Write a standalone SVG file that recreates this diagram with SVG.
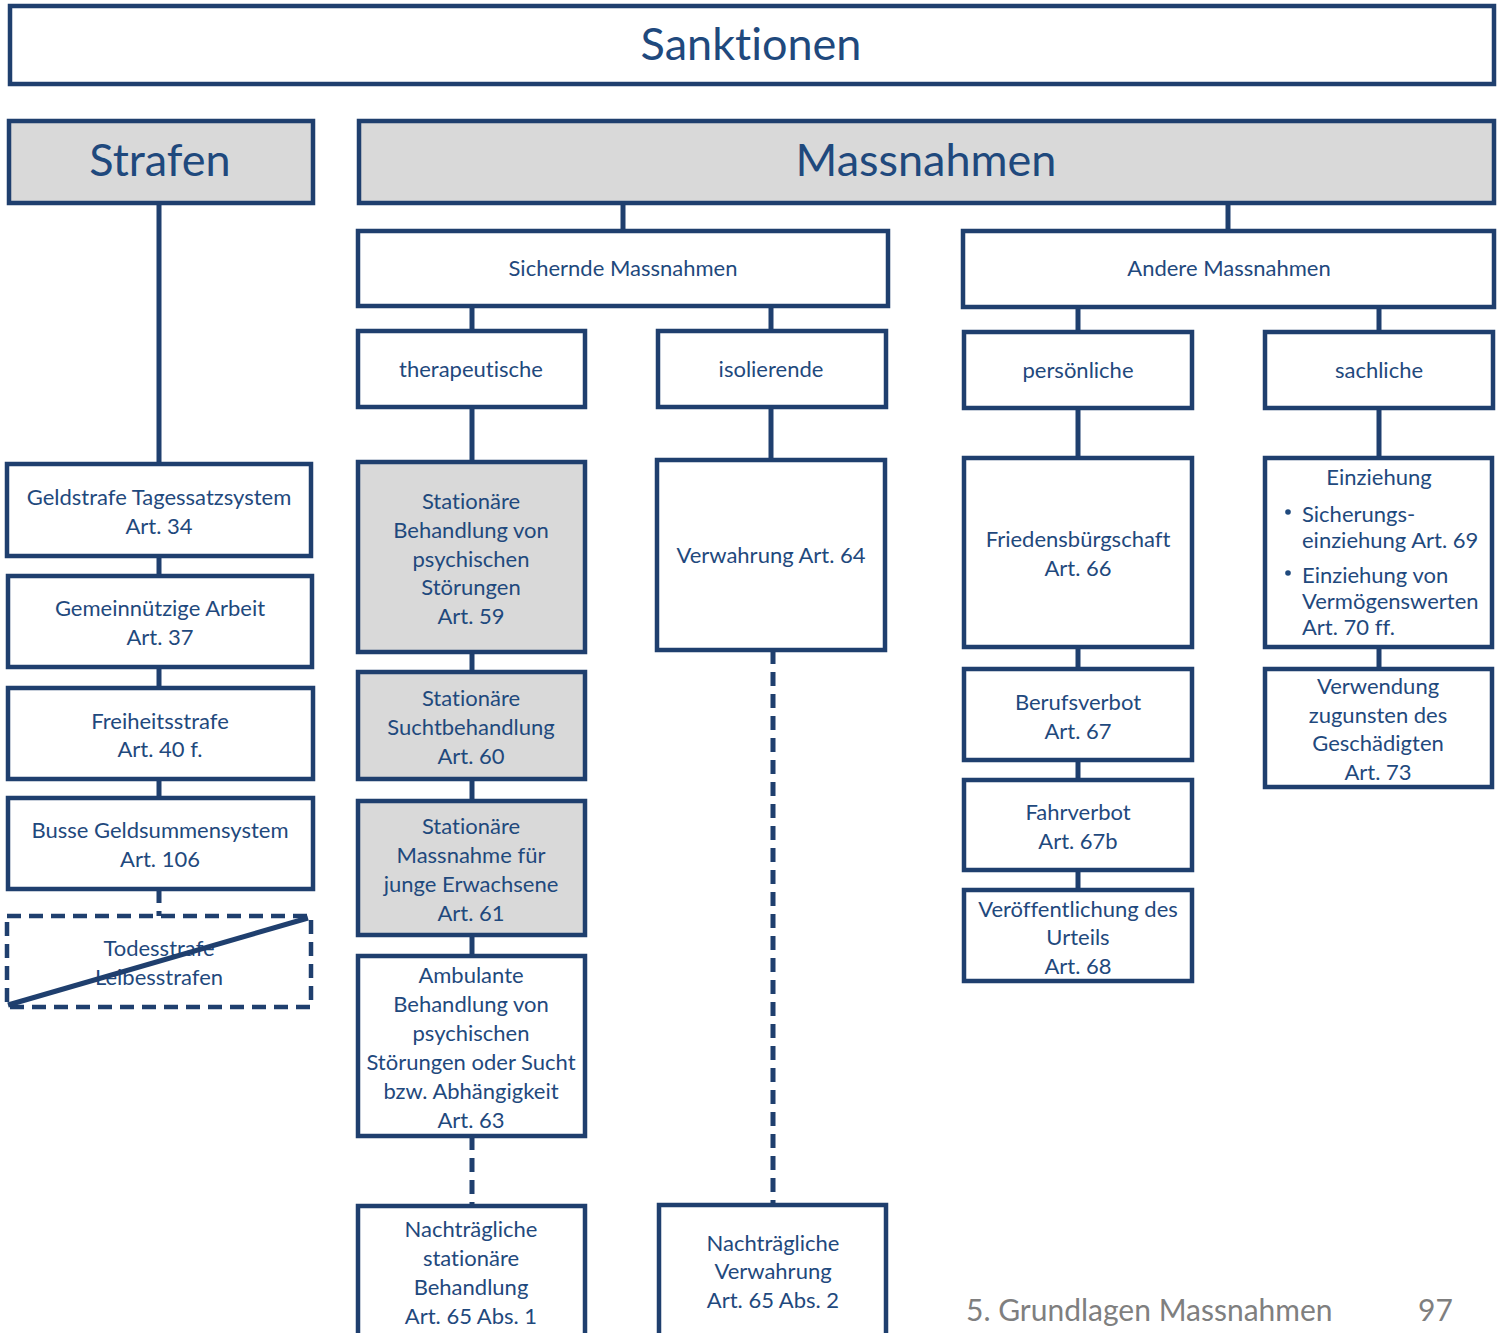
<svg xmlns="http://www.w3.org/2000/svg" width="1501" height="1333" viewBox="0 0 1501 1333">
<style>
.b{fill:#fff;stroke:#1F3F6E;stroke-width:4.5}
.g{fill:#D9D9D9;stroke:#1F3F6E;stroke-width:4.5}
.d{fill:#fff;stroke:#1F3F6E;stroke-width:4.5;stroke-dasharray:14 8}
.c{stroke:#1F3F6E;stroke-width:5;fill:none}
.cd{stroke:#1F3F6E;stroke-width:5;fill:none;stroke-dasharray:14 8}
text{font-family:Lato,"Open Sans",sans-serif;fill:#1F497D;font-size:22px;text-anchor:middle;dominant-baseline:central;font-variant-ligatures:none}
.big{font-size:45px}
.l{text-anchor:start}
.f{fill:#7F7F7F;font-size:30px;text-anchor:start}
</style>
<rect width="1501" height="1333" fill="#fff"/>
<g id="connectors">
<line class="c" x1="159" y1="203" x2="159" y2="464"/>
<line class="c" x1="159" y1="556" x2="159" y2="576"/>
<line class="c" x1="159" y1="667" x2="159" y2="688"/>
<line class="c" x1="159" y1="779" x2="159" y2="798"/>
<line class="cd" x1="159" y1="889" x2="159" y2="916" stroke-dasharray="7 6"/>
<line class="c" x1="623" y1="203" x2="623" y2="231"/>
<line class="c" x1="1228" y1="203" x2="1228" y2="231"/>
<line class="c" x1="472" y1="306" x2="472" y2="331"/>
<line class="c" x1="771" y1="306" x2="771" y2="331"/>
<line class="c" x1="1078" y1="307" x2="1078" y2="332"/>
<line class="c" x1="1379" y1="307" x2="1379" y2="332"/>
<line class="c" x1="472" y1="407" x2="472" y2="462"/>
<line class="c" x1="472" y1="652" x2="472" y2="672"/>
<line class="c" x1="472" y1="779" x2="472" y2="801"/>
<line class="c" x1="472" y1="935" x2="472" y2="956"/>
<line class="cd" x1="472" y1="1136" x2="472" y2="1206"/>
<line class="c" x1="771" y1="407" x2="771" y2="460"/>
<line class="cd" x1="773" y1="650" x2="773" y2="1205"/>
<line class="c" x1="1078" y1="408" x2="1078" y2="458"/>
<line class="c" x1="1078" y1="647" x2="1078" y2="669"/>
<line class="c" x1="1078" y1="760" x2="1078" y2="780"/>
<line class="c" x1="1078" y1="870" x2="1078" y2="890"/>
<line class="c" x1="1379" y1="408" x2="1379" y2="458"/>
<line class="c" x1="1379" y1="647" x2="1379" y2="669"/>
</g>
<g id="sanktionen"><rect class="b" x="10" y="6" width="1484" height="78"/><text class="big" x="751" y="43">Sanktionen</text></g>
<g id="strafen"><rect class="g" x="9" y="121" width="304" height="82"/><text class="big" x="160" y="159">Strafen</text></g>
<g id="massnahmen"><rect class="g" x="359" y="121" width="1135" height="82"/><text class="big" x="926" y="159">Massnahmen</text></g>
<g id="sichernde"><rect class="b" x="358" y="231" width="530" height="75"/><text x="623" y="267">Sichernde Massnahmen</text></g>
<g id="andere"><rect class="b" x="963" y="231" width="531" height="76"/><text x="1229" y="267">Andere Massnahmen</text></g>
<g id="therapeutische"><rect class="b" x="358" y="331" width="227" height="76"/><text x="471" y="368">therapeutische</text></g>
<g id="isolierende"><rect class="b" x="658" y="331" width="228" height="76"/><text x="771" y="368">isolierende</text></g>
<g id="persoenliche"><rect class="b" x="964" y="332" width="228" height="76"/><text x="1078" y="369">persönliche</text></g>
<g id="sachliche"><rect class="b" x="1265" y="332" width="228" height="76"/><text x="1379" y="369">sachliche</text></g>
<g id="geldstrafe"><rect class="b" x="7" y="464" width="304" height="92"/><text x="159" y="496">Geldstrafe Tagessatzsystem</text><text x="159" y="525">Art. 34</text></g>
<g id="gemeinnuetzige"><rect class="b" x="8" y="576" width="304" height="91"/><text x="160" y="607">Gemeinnützige Arbeit</text><text x="160" y="636">Art. 37</text></g>
<g id="freiheitsstrafe"><rect class="b" x="8" y="688" width="305" height="91"/><text x="160" y="720">Freiheitsstrafe</text><text x="160" y="748">Art. 40 f.</text></g>
<g id="busse"><rect class="b" x="8" y="798" width="305" height="91"/><text x="160" y="829">Busse Geldsummensystem</text><text x="160" y="858">Art. 106</text></g>
<g id="todesstrafe"><rect class="d" x="7" y="916" width="304" height="91"/><text x="159" y="947">Todesstrafe</text><text x="159" y="976">Leibesstrafen</text><line class="c" x1="8" y1="1005" x2="308" y2="918"/></g>
<g id="art59"><rect class="g" x="358" y="462" width="227" height="190"/><text x="471" y="500">Stationäre</text><text x="471" y="529">Behandlung von</text><text x="471" y="558">psychischen</text><text x="471" y="586">Störungen</text><text x="471" y="615">Art. 59</text></g>
<g id="art60"><rect class="g" x="358" y="672" width="227" height="107"/><text x="471" y="697">Stationäre</text><text x="471" y="726">Suchtbehandlung</text><text x="471" y="755">Art. 60</text></g>
<g id="art61"><rect class="g" x="358" y="801" width="227" height="134"/><text x="471" y="825">Stationäre</text><text x="471" y="854">Massnahme für</text><text x="471" y="883">junge Erwachsene</text><text x="471" y="912">Art. 61</text></g>
<g id="art63"><rect class="b" x="358" y="956" width="227" height="180"/><text x="471" y="974">Ambulante</text><text x="471" y="1003">Behandlung von</text><text x="471" y="1032">psychischen</text><text x="471" y="1061">Störungen oder Sucht</text><text x="471" y="1090">bzw. Abhängigkeit</text><text x="471" y="1119">Art. 63</text></g>
<g id="art65-1"><rect class="b" x="358" y="1206" width="227" height="140"/><text x="471" y="1228">Nachträgliche</text><text x="471" y="1257">stationäre</text><text x="471" y="1286">Behandlung</text><text x="471" y="1315">Art. 65 Abs. 1</text></g>
<g id="art64"><rect class="b" x="657" y="460" width="228" height="190"/><text x="771" y="554">Verwahrung Art. 64</text></g>
<g id="art65-2"><rect class="b" x="659" y="1205" width="227" height="140"/><text x="773" y="1242">Nachträgliche</text><text x="773" y="1270">Verwahrung</text><text x="773" y="1299">Art. 65 Abs. 2</text></g>
<g id="art66"><rect class="b" x="964" y="458" width="228" height="189"/><text x="1078" y="538">Friedensbürgschaft</text><text x="1078" y="567">Art. 66</text></g>
<g id="art67"><rect class="b" x="964" y="669" width="228" height="91"/><text x="1078" y="701">Berufsverbot</text><text x="1078" y="730">Art. 67</text></g>
<g id="art67b"><rect class="b" x="964" y="780" width="228" height="90"/><text x="1078" y="811">Fahrverbot</text><text x="1078" y="840">Art. 67b</text></g>
<g id="art68"><rect class="b" x="964" y="890" width="228" height="91"/><text x="1078" y="908">Veröffentlichung des</text><text x="1078" y="936">Urteils</text><text x="1078" y="965">Art. 68</text></g>
<g id="einziehung"><rect class="b" x="1265" y="458" width="227" height="189"/><text x="1379" y="476">Einziehung</text>
<circle cx="1288" cy="512" r="2.8" fill="#1F497D"/><text class="l" x="1302" y="513">Sicherungs-</text><text class="l" x="1302" y="539">einziehung Art. 69</text>
<circle cx="1288" cy="573" r="2.8" fill="#1F497D"/><text class="l" x="1302" y="574">Einziehung von</text><text class="l" x="1302" y="600">Vermögenswerten</text><text class="l" x="1302" y="626">Art. 70 ff.</text></g>
<g id="art73"><rect class="b" x="1265" y="669" width="227" height="118"/><text x="1378" y="685">Verwendung</text><text x="1378" y="714">zugunsten des</text><text x="1378" y="742">Geschädigten</text><text x="1378" y="771">Art. 73</text></g>
<g id="footer"><text class="f" x="966" y="1309">5. Grundlagen Massnahmen</text><text class="f" x="1418" y="1309">97</text></g>
</svg>
